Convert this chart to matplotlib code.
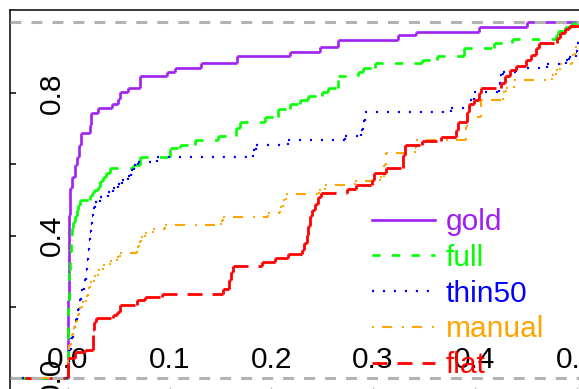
import matplotlib
matplotlib.use("Agg")
import matplotlib.pyplot as plt
from matplotlib.collections import LineCollection
from matplotlib.lines import Line2D

plt.rcParams['font.family'] = ['Liberation Sans', 'DejaVu Sans']
plt.rcParams['lines.scale_dashes'] = False

# -------------------------------
# ECDF jump points (x where the step happens, new level)
# -------------------------------
gold_x = [0.0, 0.0005, 0.001, 0.0015, 0.002, 0.0039, 0.0069, 0.0088, 0.0108, 0.0128,
          0.0216, 0.0226, 0.0295, 0.0433, 0.0492, 0.0511, 0.0590, 0.0708, 0.0973, 0.1052,
          0.1308, 0.1662, 0.2183, 0.2478, 0.2655, 0.3245, 0.3422, 0.4041, 0.4513]
gold_y = [0.107, 0.219, 0.360, 0.458, 0.534, 0.565, 0.598, 0.621, 0.654, 0.688,
          0.711, 0.744, 0.758, 0.770, 0.784, 0.803, 0.815, 0.848, 0.860, 0.871,
          0.885, 0.904, 0.916, 0.930, 0.949, 0.963, 0.972, 0.986, 1.0]

full_x = [0.0, 0.0005, 0.001, 0.002, 0.003, 0.0039, 0.0049, 0.0069, 0.0088, 0.0098,
          0.0118, 0.0216, 0.0236, 0.0256, 0.0295, 0.0315, 0.0344, 0.0374, 0.0413, 0.0639,
          0.0708, 0.1003, 0.1101, 0.1249, 0.1475, 0.1652, 0.1691, 0.1937, 0.2065, 0.2183,
          0.2281, 0.2360, 0.2498, 0.2557, 0.2655, 0.2852, 0.2901, 0.3019, 0.3481, 0.3628,
          0.3894, 0.4189, 0.4366, 0.4798, 0.4818, 0.4887, 0.4956, 0.5034]
full_y = [0.121, 0.219, 0.303, 0.354, 0.402, 0.421, 0.438, 0.455, 0.472, 0.486,
          0.500, 0.511, 0.520, 0.528, 0.537, 0.553, 0.565, 0.576, 0.590, 0.598,
          0.621, 0.646, 0.654, 0.669, 0.680, 0.702, 0.719, 0.733, 0.756, 0.770,
          0.781, 0.792, 0.803, 0.815, 0.848, 0.860, 0.871, 0.885, 0.893, 0.904,
          0.927, 0.941, 0.952, 0.963, 0.975, 0.986, 0.997, 1.0]

thin50_x = [0.0, 0.001, 0.0029, 0.0049, 0.0069, 0.0088, 0.0108, 0.0128, 0.0157, 0.0177,
            0.0187, 0.0197, 0.0206, 0.0216, 0.0226, 0.0236, 0.0246, 0.0265, 0.0315, 0.0393,
            0.0442, 0.0492, 0.0531, 0.0590, 0.0619, 0.0649, 0.0688, 0.0875, 0.1819, 0.1849,
            0.2163, 0.2724, 0.2881, 0.2901, 0.2920, 0.3766, 0.3953, 0.3992, 0.4238, 0.4248,
            0.4277, 0.4405, 0.4710, 0.4897, 0.4926, 0.4995, 0.5005]
thin50_y = [0.045, 0.079, 0.112, 0.140, 0.163, 0.191, 0.219, 0.247, 0.275, 0.303,
            0.331, 0.360, 0.388, 0.410, 0.433, 0.455, 0.478, 0.494, 0.508, 0.522,
            0.534, 0.545, 0.556, 0.567, 0.584, 0.598, 0.607, 0.621, 0.640, 0.654,
            0.669, 0.680, 0.697, 0.722, 0.747, 0.758, 0.781, 0.803, 0.826, 0.851,
            0.860, 0.871, 0.882, 0.893, 0.902, 0.916, 0.941]

manual_x = [0.0, 0.001, 0.0029, 0.0049, 0.0069, 0.0088, 0.0108, 0.0138, 0.0177, 0.0197,
            0.0216, 0.0256, 0.0295, 0.0344, 0.0413, 0.0482, 0.0511, 0.0678, 0.0698, 0.0718,
            0.0757, 0.0836, 0.0954, 0.1504, 0.1524, 0.1967, 0.2085, 0.2114, 0.2144, 0.2468,
            0.2527, 0.2822, 0.3068, 0.3107, 0.3127, 0.3412, 0.3422, 0.3914, 0.3923, 0.4061,
            0.4277, 0.4307, 0.4385, 0.4759, 0.4798, 0.4838, 0.4956, 0.4985]
manual_y = [0.051, 0.093, 0.121, 0.140, 0.157, 0.177, 0.197, 0.213, 0.230, 0.253,
            0.270, 0.287, 0.303, 0.317, 0.329, 0.340, 0.351, 0.368, 0.382, 0.396,
            0.407, 0.419, 0.430, 0.441, 0.452, 0.463, 0.480, 0.500, 0.517, 0.528,
            0.542, 0.553, 0.565, 0.598, 0.632, 0.646, 0.669, 0.705, 0.733, 0.781,
            0.803, 0.815, 0.837, 0.851, 0.865, 0.882, 0.907, 0.930]

flat_x = [0.0, 0.0069, 0.0167, 0.0246, 0.0256, 0.0275, 0.0442, 0.0482, 0.0511, 0.0678,
          0.0757, 0.0924, 0.1524, 0.1583, 0.1603, 0.1622, 0.1908, 0.2035, 0.2163, 0.2301,
          0.2321, 0.2350, 0.2360, 0.2380, 0.2399, 0.2429, 0.2458, 0.2488, 0.2743, 0.2832,
          0.2989, 0.3009, 0.3127, 0.3294, 0.3314, 0.3481, 0.3668, 0.3815, 0.3835, 0.3923,
          0.3943, 0.3992, 0.4041, 0.4061, 0.4258, 0.4297, 0.4346, 0.4405, 0.4503, 0.4553,
          0.4602, 0.4631, 0.4808, 0.4838, 0.4887, 0.4926]
flat_y = [0.056, 0.073, 0.079, 0.135, 0.157, 0.169, 0.177, 0.185, 0.205, 0.219,
          0.228, 0.236, 0.250, 0.275, 0.298, 0.315, 0.326, 0.337, 0.348, 0.360,
          0.379, 0.402, 0.427, 0.455, 0.472, 0.489, 0.508, 0.520, 0.531, 0.542,
          0.556, 0.576, 0.590, 0.626, 0.654, 0.666, 0.677, 0.697, 0.719, 0.747,
          0.770, 0.781, 0.801, 0.815, 0.829, 0.848, 0.865, 0.876, 0.893, 0.907,
          0.927, 0.941, 0.955, 0.969, 0.980, 0.989]

labels = ["gold", "full", "thin50", "manual", "flat"]
series_x = [gold_x, full_x, thin50_x, manual_x, flat_x]
series_y = [gold_y, full_y, thin50_y, manual_y, flat_y]

x_ticks = [0.0, 0.1, 0.2, 0.3, 0.4, 0.5]
x_ticklabels = ["0.0", "0.1", "0.2", "0.3", "0.4", "0.5"]
y_ticks = [0.0, 0.2, 0.4, 0.6, 0.8, 1.0]
y_ticklabels = ["0.0", "", "0.4", "", "0.8", ""]

# styles (R-like colours / line types)
colors = ["#a020f0", "#00ff00", "#0000ff", "#ffa500", "#ff0000"]
styles = ["solid", (0, (5.8, 8.3)), (0, (1.5, 6.4)), (0, (1.4, 5.8, 7.2, 7.2)), (0, (10.8, 7.2))]
widths = [1.9, 1.9, 1.6, 1.5, 2.0]

XLIM = (-0.0570, 0.5231)
YLIM = (-0.0478, 1.0337)


def step_segments(xs, ys, x_lo, x_hi):
    # separate horizontal / vertical pieces, like plot.stepfun(verticals=TRUE)
    segs = []
    px, py = x_lo, 0.0
    for x, y in zip(xs, ys):
        segs.append([(px, py), (x, py)])
        segs.append([(x, py), (x, y)])
        px, py = x, y
    segs.append([(px, py), (x_hi, py)])
    return segs


fig = plt.figure(figsize=(5.79, 3.89), dpi=100)
ax = fig.add_axes([10 / 579, -6 / 389, 590 / 579, 385 / 389])
ax.set_xlim(*XLIM)
ax.set_ylim(*YLIM)

handles = []
for xs, ys, c, ls, lw, lab in zip(series_x, series_y, colors, styles, widths, labels):
    lc = LineCollection(step_segments(xs, ys, XLIM[0] - 0.01, XLIM[1] + 0.01),
                        colors=c, linestyles=ls, linewidths=lw, zorder=2)
    ax.add_collection(lc)
    handles.append(Line2D([], [], color=c, linestyle=ls, linewidth=lw))

# 0 / 1 reference lines
for h in [0.0, 1.0]:
    ax.axhline(h, color="#b3b3b3", linewidth=2.2, linestyle=(0, (7.9, 7.2)), zorder=3)

for s in ["right", "bottom"]:
    ax.spines[s].set_visible(False)
ax.spines["top"].set_linewidth(1.1)
ax.spines["left"].set_linewidth(1.1)

ax.set_xticks(x_ticks)
ax.set_xticklabels(x_ticklabels)
ax.set_yticks(y_ticks)
ax.set_yticklabels(y_ticklabels)
ax.tick_params(axis="x", direction="in", length=5.8, width=1.0, color="#bbbbbb",
               pad=-35.3, labelsize=21.5)
ax.tick_params(axis="y", direction="in", length=4.3, width=1.1,
               pad=-40.3, labelsize=21.5, labelrotation=90)
for t in ax.get_yticklabels():
    t.set_va("center")

ax.legend(handles, labels, loc="upper left", bbox_to_anchor=(372 / 579, 1 - 208 / 389),
          bbox_transform=fig.transFigure, frameon=False, fontsize=21.5,
          handlelength=2.1, handletextpad=0.37, labelspacing=0.26,
          borderpad=0, borderaxespad=0, labelcolor="linecolor")

fig.savefig("out.png", dpi=100)
